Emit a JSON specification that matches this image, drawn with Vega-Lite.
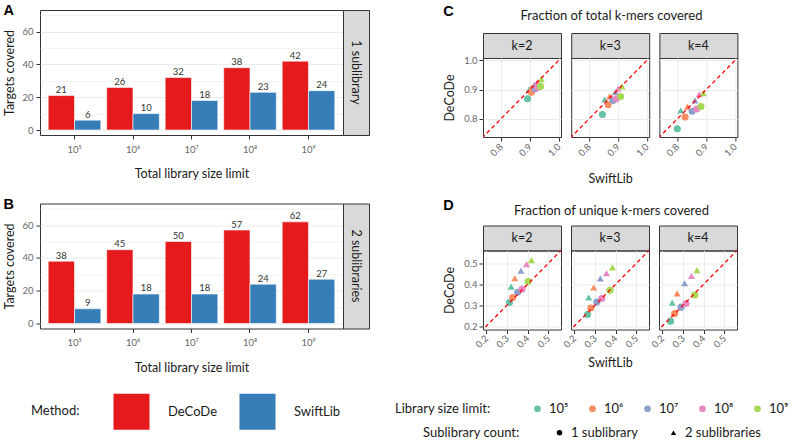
{
  "$schema": "https://vega.github.io/schema/vega-lite/v6.json",
  "background": "white",
  "padding": {"left": 3, "top": 3, "right": 3, "bottom": 3},
  "datasets": {
    "bars": [
      {"sub": "1 sublibrary", "lib": "10⁵", "method": "DeCoDe", "targets": 21},
      {"sub": "1 sublibrary", "lib": "10⁵", "method": "SwiftLib", "targets": 6},
      {"sub": "1 sublibrary", "lib": "10⁶", "method": "DeCoDe", "targets": 26},
      {"sub": "1 sublibrary", "lib": "10⁶", "method": "SwiftLib", "targets": 10},
      {"sub": "1 sublibrary", "lib": "10⁷", "method": "DeCoDe", "targets": 32},
      {"sub": "1 sublibrary", "lib": "10⁷", "method": "SwiftLib", "targets": 18},
      {"sub": "1 sublibrary", "lib": "10⁸", "method": "DeCoDe", "targets": 38},
      {"sub": "1 sublibrary", "lib": "10⁸", "method": "SwiftLib", "targets": 23},
      {"sub": "1 sublibrary", "lib": "10⁹", "method": "DeCoDe", "targets": 42},
      {"sub": "1 sublibrary", "lib": "10⁹", "method": "SwiftLib", "targets": 24},
      {"sub": "2 sublibraries", "lib": "10⁵", "method": "DeCoDe", "targets": 38},
      {"sub": "2 sublibraries", "lib": "10⁵", "method": "SwiftLib", "targets": 9},
      {"sub": "2 sublibraries", "lib": "10⁶", "method": "DeCoDe", "targets": 45},
      {"sub": "2 sublibraries", "lib": "10⁶", "method": "SwiftLib", "targets": 18},
      {"sub": "2 sublibraries", "lib": "10⁷", "method": "DeCoDe", "targets": 50},
      {"sub": "2 sublibraries", "lib": "10⁷", "method": "SwiftLib", "targets": 18},
      {"sub": "2 sublibraries", "lib": "10⁸", "method": "DeCoDe", "targets": 57},
      {"sub": "2 sublibraries", "lib": "10⁸", "method": "SwiftLib", "targets": 24},
      {"sub": "2 sublibraries", "lib": "10⁹", "method": "DeCoDe", "targets": 62},
      {"sub": "2 sublibraries", "lib": "10⁹", "method": "SwiftLib", "targets": 27}
    ],
    "total": [
      {"k": 2, "lib": "10⁵", "sub": "1 sublibrary", "swiftlib": 0.892, "decode": 0.869},
      {"k": 2, "lib": "10⁵", "sub": "2 sublibraries", "swiftlib": 0.898, "decode": 0.901},
      {"k": 2, "lib": "10⁶", "sub": "1 sublibrary", "swiftlib": 0.906, "decode": 0.891},
      {"k": 2, "lib": "10⁶", "sub": "2 sublibraries", "swiftlib": 0.906, "decode": 0.907},
      {"k": 2, "lib": "10⁷", "sub": "1 sublibrary", "swiftlib": 0.918, "decode": 0.903},
      {"k": 2, "lib": "10⁷", "sub": "2 sublibraries", "swiftlib": 0.916, "decode": 0.916},
      {"k": 2, "lib": "10⁸", "sub": "1 sublibrary", "swiftlib": 0.926, "decode": 0.906},
      {"k": 2, "lib": "10⁸", "sub": "2 sublibraries", "swiftlib": 0.926, "decode": 0.925},
      {"k": 2, "lib": "10⁹", "sub": "1 sublibrary", "swiftlib": 0.937, "decode": 0.911},
      {"k": 2, "lib": "10⁹", "sub": "2 sublibraries", "swiftlib": 0.940, "decode": 0.936},
      {"k": 3, "lib": "10⁵", "sub": "1 sublibrary", "swiftlib": 0.846, "decode": 0.815},
      {"k": 3, "lib": "10⁵", "sub": "2 sublibraries", "swiftlib": 0.854, "decode": 0.866},
      {"k": 3, "lib": "10⁶", "sub": "1 sublibrary", "swiftlib": 0.866, "decode": 0.848},
      {"k": 3, "lib": "10⁶", "sub": "2 sublibraries", "swiftlib": 0.871, "decode": 0.877},
      {"k": 3, "lib": "10⁷", "sub": "1 sublibrary", "swiftlib": 0.883, "decode": 0.863},
      {"k": 3, "lib": "10⁷", "sub": "2 sublibraries", "swiftlib": 0.891, "decode": 0.892},
      {"k": 3, "lib": "10⁸", "sub": "1 sublibrary", "swiftlib": 0.894, "decode": 0.869},
      {"k": 3, "lib": "10⁸", "sub": "2 sublibraries", "swiftlib": 0.900, "decode": 0.903},
      {"k": 3, "lib": "10⁹", "sub": "1 sublibrary", "swiftlib": 0.909, "decode": 0.876},
      {"k": 3, "lib": "10⁹", "sub": "2 sublibraries", "swiftlib": 0.914, "decode": 0.911},
      {"k": 4, "lib": "10⁵", "sub": "1 sublibrary", "swiftlib": 0.800, "decode": 0.766},
      {"k": 4, "lib": "10⁵", "sub": "2 sublibraries", "swiftlib": 0.812, "decode": 0.829},
      {"k": 4, "lib": "10⁶", "sub": "1 sublibrary", "swiftlib": 0.827, "decode": 0.806},
      {"k": 4, "lib": "10⁶", "sub": "2 sublibraries", "swiftlib": 0.835, "decode": 0.842},
      {"k": 4, "lib": "10⁷", "sub": "1 sublibrary", "swiftlib": 0.851, "decode": 0.826},
      {"k": 4, "lib": "10⁷", "sub": "2 sublibraries", "swiftlib": 0.861, "decode": 0.863},
      {"k": 4, "lib": "10⁸", "sub": "1 sublibrary", "swiftlib": 0.867, "decode": 0.834},
      {"k": 4, "lib": "10⁸", "sub": "2 sublibraries", "swiftlib": 0.876, "decode": 0.884},
      {"k": 4, "lib": "10⁹", "sub": "1 sublibrary", "swiftlib": 0.882, "decode": 0.842},
      {"k": 4, "lib": "10⁹", "sub": "2 sublibraries", "swiftlib": 0.890, "decode": 0.888}
    ],
    "unique": [
      {"k": 2, "lib": "10⁵", "sub": "1 sublibrary", "swiftlib": 0.312, "decode": 0.313},
      {"k": 2, "lib": "10⁵", "sub": "2 sublibraries", "swiftlib": 0.320, "decode": 0.389},
      {"k": 2, "lib": "10⁶", "sub": "1 sublibrary", "swiftlib": 0.328, "decode": 0.337},
      {"k": 2, "lib": "10⁶", "sub": "2 sublibraries", "swiftlib": 0.338, "decode": 0.429},
      {"k": 2, "lib": "10⁷", "sub": "1 sublibrary", "swiftlib": 0.352, "decode": 0.362},
      {"k": 2, "lib": "10⁷", "sub": "2 sublibraries", "swiftlib": 0.368, "decode": 0.465},
      {"k": 2, "lib": "10⁸", "sub": "1 sublibrary", "swiftlib": 0.373, "decode": 0.377},
      {"k": 2, "lib": "10⁸", "sub": "2 sublibraries", "swiftlib": 0.395, "decode": 0.497},
      {"k": 2, "lib": "10⁹", "sub": "1 sublibrary", "swiftlib": 0.403, "decode": 0.414},
      {"k": 2, "lib": "10⁹", "sub": "2 sublibraries", "swiftlib": 0.419, "decode": 0.516},
      {"k": 3, "lib": "10⁵", "sub": "1 sublibrary", "swiftlib": 0.264, "decode": 0.256},
      {"k": 3, "lib": "10⁵", "sub": "2 sublibraries", "swiftlib": 0.270, "decode": 0.337},
      {"k": 3, "lib": "10⁶", "sub": "1 sublibrary", "swiftlib": 0.280, "decode": 0.287},
      {"k": 3, "lib": "10⁶", "sub": "2 sublibraries", "swiftlib": 0.294, "decode": 0.385},
      {"k": 3, "lib": "10⁷", "sub": "1 sublibrary", "swiftlib": 0.309, "decode": 0.315},
      {"k": 3, "lib": "10⁷", "sub": "2 sublibraries", "swiftlib": 0.326, "decode": 0.428},
      {"k": 3, "lib": "10⁸", "sub": "1 sublibrary", "swiftlib": 0.333, "decode": 0.332},
      {"k": 3, "lib": "10⁸", "sub": "2 sublibraries", "swiftlib": 0.356, "decode": 0.453},
      {"k": 3, "lib": "10⁹", "sub": "1 sublibrary", "swiftlib": 0.373, "decode": 0.372},
      {"k": 3, "lib": "10⁹", "sub": "2 sublibraries", "swiftlib": 0.385, "decode": 0.481},
      {"k": 4, "lib": "10⁵", "sub": "1 sublibrary", "swiftlib": 0.240, "decode": 0.224},
      {"k": 4, "lib": "10⁵", "sub": "2 sublibraries", "swiftlib": 0.248, "decode": 0.312},
      {"k": 4, "lib": "10⁶", "sub": "1 sublibrary", "swiftlib": 0.260, "decode": 0.260},
      {"k": 4, "lib": "10⁶", "sub": "2 sublibraries", "swiftlib": 0.272, "decode": 0.357},
      {"k": 4, "lib": "10⁷", "sub": "1 sublibrary", "swiftlib": 0.291, "decode": 0.291},
      {"k": 4, "lib": "10⁷", "sub": "2 sublibraries", "swiftlib": 0.308, "decode": 0.405},
      {"k": 4, "lib": "10⁸", "sub": "1 sublibrary", "swiftlib": 0.315, "decode": 0.308},
      {"k": 4, "lib": "10⁸", "sub": "2 sublibraries", "swiftlib": 0.341, "decode": 0.440},
      {"k": 4, "lib": "10⁹", "sub": "1 sublibrary", "swiftlib": 0.357, "decode": 0.349},
      {"k": 4, "lib": "10⁹", "sub": "2 sublibraries", "swiftlib": 0.368, "decode": 0.468}
    ]
  },
  "hconcat": [
    {
      "vconcat": [
        {
          "title": {"text": "A", "anchor": "start", "offset": -9, "font": "Liberation Sans", "fontSize": 14.5, "fontWeight": "bold", "color": "#000000"},
          "hconcat": [
            {
              "width": 303, "height": 125,
              "data": {"name": "bars"},
              "transform": [{"filter": "datum.sub == '1 sublibrary'"}],
              "encoding": {
                "x": {"field": "lib", "type": "nominal", "sort": ["10⁵", "10⁶", "10⁷", "10⁸", "10⁹"], "scale": {"paddingInner": 0.1, "paddingOuter": 0.14}, "axis": {"title": "Total library size limit", "labelAngle": 0, "grid": false, "labelPadding": 5, "titlePadding": 14}},
                "xOffset": {"field": "method", "type": "nominal", "sort": ["DeCoDe", "SwiftLib"]},
                "y": {"field": "targets", "type": "quantitative", "scale": {"domain": [-3.05, 73.2], "nice": false}, "axis": {"title": "Targets covered", "values": [0, 10, 20, 30, 40, 50, 60, 70], "labelOverlap": false, "labelExpr": "datum.value % 20 == 0 ? datum.label : ''", "tickOpacity": {"condition": {"test": "datum.value % 20 == 0", "value": 1}, "value": 0}, "gridWidth": {"condition": {"test": "datum.value % 20 == 0", "value": 1}, "value": 0.6}, "labelPadding": 3, "titlePadding": 5}}
              },
              "layer": [
                {"mark": {"type": "bar", "stroke": "white", "strokeWidth": 0.6, "opacity": 1},
                 "encoding": {"color": {"field": "method", "type": "nominal", "scale": {"domain": ["DeCoDe", "SwiftLib"], "range": ["#E41A1C", "#377EB8"]}, "legend": {"title": "Method:", "orient": "bottom", "direction": "horizontal", "titleOrient": "left", "titleAnchor": "middle", "titleBaseline": "middle", "titlePadding": 33, "symbolType": "square", "symbolSize": 1300, "symbolStrokeWidth": 0, "labelOffset": 18, "columnPadding": 22, "offset": 19, "labelFontSize": 13, "titleFontSize": 13}}}},
                {"mark": {"type": "text", "baseline": "bottom", "dy": -0.5, "fontSize": 9.5, "color": "#333333"},
                 "encoding": {"text": {"field": "targets", "type": "quantitative"}}}
              ]
            },
            {
              "width": 26, "height": 125,
              "data": {"values": [{"label": "1 sublibrary"}]},
              "mark": {"type": "text", "angle": 90, "fontSize": 12.5, "color": "#1A1A1A"},
              "encoding": {"text": {"field": "label", "type": "nominal"}},
              "view": {"fill": "#D9D9D9", "stroke": "#333333"}
            }
          ],
          "spacing": 0,
          "bounds": "flush"
        },
        {
          "title": {"text": "B", "anchor": "start", "offset": -9, "font": "Liberation Sans", "fontSize": 14.5, "fontWeight": "bold", "color": "#000000"},
          "hconcat": [
            {
              "width": 303, "height": 125,
              "data": {"name": "bars"},
              "transform": [{"filter": "datum.sub == '2 sublibraries'"}],
              "encoding": {
                "x": {"field": "lib", "type": "nominal", "sort": ["10⁵", "10⁶", "10⁷", "10⁸", "10⁹"], "scale": {"paddingInner": 0.1, "paddingOuter": 0.14}, "axis": {"title": "Total library size limit", "labelAngle": 0, "grid": false, "labelPadding": 5, "titlePadding": 14}},
                "xOffset": {"field": "method", "type": "nominal", "sort": ["DeCoDe", "SwiftLib"]},
                "y": {"field": "targets", "type": "quantitative", "scale": {"domain": [-3.05, 73.2], "nice": false}, "axis": {"title": "Targets covered", "values": [0, 10, 20, 30, 40, 50, 60, 70], "labelOverlap": false, "labelExpr": "datum.value % 20 == 0 ? datum.label : ''", "tickOpacity": {"condition": {"test": "datum.value % 20 == 0", "value": 1}, "value": 0}, "gridWidth": {"condition": {"test": "datum.value % 20 == 0", "value": 1}, "value": 0.6}, "labelPadding": 3, "titlePadding": 5}}
              },
              "layer": [
                {"mark": {"type": "bar", "stroke": "white", "strokeWidth": 0.6, "opacity": 1},
                 "encoding": {"color": {"field": "method", "type": "nominal", "scale": {"domain": ["DeCoDe", "SwiftLib"], "range": ["#E41A1C", "#377EB8"]}, "legend": {"title": "Method:", "orient": "bottom", "direction": "horizontal", "titleOrient": "left", "titleAnchor": "middle", "titleBaseline": "middle", "titlePadding": 33, "symbolType": "square", "symbolSize": 1300, "symbolStrokeWidth": 0, "labelOffset": 18, "columnPadding": 22, "offset": 19, "labelFontSize": 13, "titleFontSize": 13}}}},
                {"mark": {"type": "text", "baseline": "bottom", "dy": -0.5, "fontSize": 9.5, "color": "#333333"},
                 "encoding": {"text": {"field": "targets", "type": "quantitative"}}}
              ]
            },
            {
              "width": 26, "height": 125,
              "data": {"values": [{"label": "2 sublibraries"}]},
              "mark": {"type": "text", "angle": 90, "fontSize": 12.5, "color": "#1A1A1A"},
              "encoding": {"text": {"field": "label", "type": "nominal"}},
              "view": {"fill": "#D9D9D9", "stroke": "#333333"}
            }
          ],
          "spacing": 0,
          "bounds": "flush"
        }
      ],
      "spacing": 15.5
    },
    {
      "vconcat": [
        {
          "title": {"text": "C", "anchor": "start", "offset": -9, "font": "Liberation Sans", "fontSize": 14.5, "fontWeight": "bold", "color": "#000000"},
          "vconcat": [
            {"width": 257, "height": 12, "data": {"values": [{"label": "Fraction of total k-mers covered"}]}, "mark": {"type": "text", "fontSize": 13, "color": "#1A1A1A"}, "encoding": {"text": {"field": "label", "type": "nominal"}}, "view": {"stroke": null}},
            {
              "hconcat": [
                {
                  "vconcat": [
                    {"width": 78, "height": 25, "data": {"values": [{"label": "k=2"}]}, "mark": {"type": "text", "fontSize": 12.5, "color": "#1A1A1A"}, "encoding": {"text": {"field": "label", "type": "nominal"}}, "view": {"fill": "#D9D9D9", "stroke": "#333333"}},
                    {
                      "width": 78, "height": 79,
                      "layer": [
                        {"data": {"name": "total"}, "transform": [{"filter": "datum.k == 2"}],
                         "mark": {"type": "point", "filled": true, "size": 50, "opacity": 1},
                         "encoding": {
                           "x": {"field": "swiftlib", "type": "quantitative", "scale": {"domain": [0.738, 1.008], "nice": false, "zero": false}, "axis": {"orient": "bottom", "values": [0.8, 0.9, 1.0], "format": ".1f", "labelAngle": -45, "labelAlign": "right", "labelBaseline": "middle", "labelPadding": 4, "title": null}},
                           "y": {"field": "decode", "type": "quantitative", "scale": {"domain": [0.738, 1.008], "nice": false, "zero": false}, "axis": {"orient": "left", "values": [0.8, 0.9, 1.0], "format": ".1f", "title": "DeCoDe", "titlePadding": 7, "labelPadding": 2}},
                           "color": {"field": "lib", "type": "nominal", "scale": {"domain": ["10⁵", "10⁶", "10⁷", "10⁸", "10⁹"], "range": ["#66C2A5", "#FC8D62", "#8DA0CB", "#E78AC3", "#A6D854"]}, "legend": {"title": "Library size limit:", "orient": "bottom", "direction": "horizontal", "titleOrient": "left", "titlePadding": 40, "symbolType": "circle", "symbolSize": 45, "symbolStrokeWidth": 0, "labelOffset": 5, "columnPadding": 17, "offset": 32}},
                           "shape": {"field": "sub", "type": "nominal", "scale": {"domain": ["1 sublibrary", "2 sublibraries"], "range": ["circle", "triangle-up"]}, "legend": {"title": "Sublibrary count:", "orient": "bottom", "direction": "horizontal", "titleOrient": "left", "titlePadding": 33, "symbolSize": 30, "symbolFillColor": "#000000", "symbolStrokeWidth": 0, "labelOffset": 5, "columnPadding": 28, "offset": 32}}
                         }},
                        {"data": {"values": [{}]},
                         "mark": {"type": "rule", "color": "#FF0000", "strokeDash": [4, 3], "strokeWidth": 1.3, "clip": true},
                         "encoding": {"x": {"datum": 0.7, "axis": {"orient": "bottom", "values": [0.75, 0.85, 0.95], "labels": false, "ticks": false, "title": null, "gridWidth": 0.6}}, "y": {"datum": 0.7, "axis": {"orient": "left", "values": [0.75, 0.85, 0.95], "labels": false, "ticks": false, "title": null, "gridWidth": 0.6}}, "x2": {"datum": 1.1}, "y2": {"datum": 1.1}}}
                      ],
                      "resolve": {"axis": {"x": "independent", "y": "independent"}}
                    }
                  ],
                  "spacing": 0, "bounds": "flush"
                },
                {
                  "vconcat": [
                    {"width": 78, "height": 25, "data": {"values": [{"label": "k=3"}]}, "mark": {"type": "text", "fontSize": 12.5, "color": "#1A1A1A"}, "encoding": {"text": {"field": "label", "type": "nominal"}}, "view": {"fill": "#D9D9D9", "stroke": "#333333"}},
                    {
                      "width": 78, "height": 79,
                      "layer": [
                        {"data": {"name": "total"}, "transform": [{"filter": "datum.k == 3"}],
                         "mark": {"type": "point", "filled": true, "size": 50, "opacity": 1},
                         "encoding": {
                           "x": {"field": "swiftlib", "type": "quantitative", "scale": {"domain": [0.738, 1.008], "nice": false, "zero": false}, "axis": {"orient": "bottom", "values": [0.8, 0.9, 1.0], "format": ".1f", "labelAngle": -45, "labelAlign": "right", "labelBaseline": "middle", "labelPadding": 4, "title": "SwiftLib", "titlePadding": 15}},
                           "y": {"field": "decode", "type": "quantitative", "scale": {"domain": [0.738, 1.008], "nice": false, "zero": false}, "axis": {"orient": "left", "values": [0.8, 0.9, 1.0], "labels": false, "ticks": false, "title": null}},
                           "color": {"field": "lib", "type": "nominal", "scale": {"domain": ["10⁵", "10⁶", "10⁷", "10⁸", "10⁹"], "range": ["#66C2A5", "#FC8D62", "#8DA0CB", "#E78AC3", "#A6D854"]}, "legend": {"title": "Library size limit:", "orient": "bottom", "direction": "horizontal", "titleOrient": "left", "titlePadding": 40, "symbolType": "circle", "symbolSize": 45, "symbolStrokeWidth": 0, "labelOffset": 5, "columnPadding": 17, "offset": 32}},
                           "shape": {"field": "sub", "type": "nominal", "scale": {"domain": ["1 sublibrary", "2 sublibraries"], "range": ["circle", "triangle-up"]}, "legend": {"title": "Sublibrary count:", "orient": "bottom", "direction": "horizontal", "titleOrient": "left", "titlePadding": 33, "symbolSize": 30, "symbolFillColor": "#000000", "symbolStrokeWidth": 0, "labelOffset": 5, "columnPadding": 28, "offset": 32}}
                         }},
                        {"data": {"values": [{}]},
                         "mark": {"type": "rule", "color": "#FF0000", "strokeDash": [4, 3], "strokeWidth": 1.3, "clip": true},
                         "encoding": {"x": {"datum": 0.7, "axis": {"orient": "bottom", "values": [0.75, 0.85, 0.95], "labels": false, "ticks": false, "title": null, "gridWidth": 0.6}}, "y": {"datum": 0.7, "axis": {"orient": "left", "values": [0.75, 0.85, 0.95], "labels": false, "ticks": false, "title": null, "gridWidth": 0.6}}, "x2": {"datum": 1.1}, "y2": {"datum": 1.1}}}
                      ],
                      "resolve": {"axis": {"x": "independent", "y": "independent"}}
                    }
                  ],
                  "spacing": 0, "bounds": "flush"
                },
                {
                  "vconcat": [
                    {"width": 78, "height": 25, "data": {"values": [{"label": "k=4"}]}, "mark": {"type": "text", "fontSize": 12.5, "color": "#1A1A1A"}, "encoding": {"text": {"field": "label", "type": "nominal"}}, "view": {"fill": "#D9D9D9", "stroke": "#333333"}},
                    {
                      "width": 78, "height": 79,
                      "layer": [
                        {"data": {"name": "total"}, "transform": [{"filter": "datum.k == 4"}],
                         "mark": {"type": "point", "filled": true, "size": 50, "opacity": 1},
                         "encoding": {
                           "x": {"field": "swiftlib", "type": "quantitative", "scale": {"domain": [0.738, 1.008], "nice": false, "zero": false}, "axis": {"orient": "bottom", "values": [0.8, 0.9, 1.0], "format": ".1f", "labelAngle": -45, "labelAlign": "right", "labelBaseline": "middle", "labelPadding": 4, "title": null}},
                           "y": {"field": "decode", "type": "quantitative", "scale": {"domain": [0.738, 1.008], "nice": false, "zero": false}, "axis": {"orient": "left", "values": [0.8, 0.9, 1.0], "labels": false, "ticks": false, "title": null}},
                           "color": {"field": "lib", "type": "nominal", "scale": {"domain": ["10⁵", "10⁶", "10⁷", "10⁸", "10⁹"], "range": ["#66C2A5", "#FC8D62", "#8DA0CB", "#E78AC3", "#A6D854"]}, "legend": {"title": "Library size limit:", "orient": "bottom", "direction": "horizontal", "titleOrient": "left", "titlePadding": 40, "symbolType": "circle", "symbolSize": 45, "symbolStrokeWidth": 0, "labelOffset": 5, "columnPadding": 17, "offset": 32}},
                           "shape": {"field": "sub", "type": "nominal", "scale": {"domain": ["1 sublibrary", "2 sublibraries"], "range": ["circle", "triangle-up"]}, "legend": {"title": "Sublibrary count:", "orient": "bottom", "direction": "horizontal", "titleOrient": "left", "titlePadding": 33, "symbolSize": 30, "symbolFillColor": "#000000", "symbolStrokeWidth": 0, "labelOffset": 5, "columnPadding": 28, "offset": 32}}
                         }},
                        {"data": {"values": [{}]},
                         "mark": {"type": "rule", "color": "#FF0000", "strokeDash": [4, 3], "strokeWidth": 1.3, "clip": true},
                         "encoding": {"x": {"datum": 0.7, "axis": {"orient": "bottom", "values": [0.75, 0.85, 0.95], "labels": false, "ticks": false, "title": null, "gridWidth": 0.6}}, "y": {"datum": 0.7, "axis": {"orient": "left", "values": [0.75, 0.85, 0.95], "labels": false, "ticks": false, "title": null, "gridWidth": 0.6}}, "x2": {"datum": 1.1}, "y2": {"datum": 1.1}}}
                      ],
                      "resolve": {"axis": {"x": "independent", "y": "independent"}}
                    }
                  ],
                  "spacing": 0, "bounds": "flush"
                }
              ],
              "spacing": 7.2
            }
          ],
          "spacing": 9
        },
        {
          "title": {"text": "D", "anchor": "start", "offset": -9, "font": "Liberation Sans", "fontSize": 14.5, "fontWeight": "bold", "color": "#000000"},
          "vconcat": [
            {"width": 257, "height": 12, "data": {"values": [{"label": "Fraction of unique k-mers covered"}]}, "mark": {"type": "text", "fontSize": 13, "color": "#1A1A1A"}, "encoding": {"text": {"field": "label", "type": "nominal"}}, "view": {"stroke": null}},
            {
              "hconcat": [
                {
                  "vconcat": [
                    {"width": 78, "height": 25, "data": {"values": [{"label": "k=2"}]}, "mark": {"type": "text", "fontSize": 12.5, "color": "#1A1A1A"}, "encoding": {"text": {"field": "label", "type": "nominal"}}, "view": {"fill": "#D9D9D9", "stroke": "#333333"}},
                    {
                      "width": 78, "height": 79,
                      "layer": [
                        {"data": {"name": "unique"}, "transform": [{"filter": "datum.k == 2"}],
                         "mark": {"type": "point", "filled": true, "size": 50, "opacity": 1},
                         "encoding": {
                           "x": {"field": "swiftlib", "type": "quantitative", "scale": {"domain": [0.184, 0.562], "nice": false, "zero": false}, "axis": {"orient": "bottom", "values": [0.2, 0.3, 0.4, 0.5], "format": ".1f", "labelAngle": -45, "labelAlign": "right", "labelBaseline": "middle", "labelPadding": 3, "title": null}},
                           "y": {"field": "decode", "type": "quantitative", "scale": {"domain": [0.184, 0.562], "nice": false, "zero": false}, "axis": {"orient": "left", "values": [0.2, 0.3, 0.4, 0.5], "format": ".1f", "title": "DeCoDe", "titlePadding": 7, "labelPadding": 2}},
                           "color": {"field": "lib", "type": "nominal", "scale": {"domain": ["10⁵", "10⁶", "10⁷", "10⁸", "10⁹"], "range": ["#66C2A5", "#FC8D62", "#8DA0CB", "#E78AC3", "#A6D854"]}, "legend": {"title": "Library size limit:", "orient": "bottom", "direction": "horizontal", "titleOrient": "left", "titlePadding": 40, "symbolType": "circle", "symbolSize": 45, "symbolStrokeWidth": 0, "labelOffset": 5, "columnPadding": 17, "offset": 32}},
                           "shape": {"field": "sub", "type": "nominal", "scale": {"domain": ["1 sublibrary", "2 sublibraries"], "range": ["circle", "triangle-up"]}, "legend": {"title": "Sublibrary count:", "orient": "bottom", "direction": "horizontal", "titleOrient": "left", "titlePadding": 33, "symbolSize": 30, "symbolFillColor": "#000000", "symbolStrokeWidth": 0, "labelOffset": 5, "columnPadding": 28, "offset": 32}}
                         }},
                        {"data": {"values": [{}]},
                         "mark": {"type": "rule", "color": "#FF0000", "strokeDash": [4, 3], "strokeWidth": 1.3, "clip": true},
                         "encoding": {"x": {"datum": 0.1, "axis": {"orient": "bottom", "values": [0.25, 0.35, 0.45, 0.55], "labels": false, "ticks": false, "title": null, "gridWidth": 0.6}}, "y": {"datum": 0.1, "axis": {"orient": "left", "values": [0.25, 0.35, 0.45, 0.55], "labels": false, "ticks": false, "title": null, "gridWidth": 0.6}}, "x2": {"datum": 0.7}, "y2": {"datum": 0.7}}}
                      ],
                      "resolve": {"axis": {"x": "independent", "y": "independent"}}
                    }
                  ],
                  "spacing": 0, "bounds": "flush"
                },
                {
                  "vconcat": [
                    {"width": 78, "height": 25, "data": {"values": [{"label": "k=3"}]}, "mark": {"type": "text", "fontSize": 12.5, "color": "#1A1A1A"}, "encoding": {"text": {"field": "label", "type": "nominal"}}, "view": {"fill": "#D9D9D9", "stroke": "#333333"}},
                    {
                      "width": 78, "height": 79,
                      "layer": [
                        {"data": {"name": "unique"}, "transform": [{"filter": "datum.k == 3"}],
                         "mark": {"type": "point", "filled": true, "size": 50, "opacity": 1},
                         "encoding": {
                           "x": {"field": "swiftlib", "type": "quantitative", "scale": {"domain": [0.184, 0.562], "nice": false, "zero": false}, "axis": {"orient": "bottom", "values": [0.2, 0.3, 0.4, 0.5], "format": ".1f", "labelAngle": -45, "labelAlign": "right", "labelBaseline": "middle", "labelPadding": 3, "title": "SwiftLib", "titlePadding": 7}},
                           "y": {"field": "decode", "type": "quantitative", "scale": {"domain": [0.184, 0.562], "nice": false, "zero": false}, "axis": {"orient": "left", "values": [0.2, 0.3, 0.4, 0.5], "labels": false, "ticks": false, "title": null}},
                           "color": {"field": "lib", "type": "nominal", "scale": {"domain": ["10⁵", "10⁶", "10⁷", "10⁸", "10⁹"], "range": ["#66C2A5", "#FC8D62", "#8DA0CB", "#E78AC3", "#A6D854"]}, "legend": {"title": "Library size limit:", "orient": "bottom", "direction": "horizontal", "titleOrient": "left", "titlePadding": 40, "symbolType": "circle", "symbolSize": 45, "symbolStrokeWidth": 0, "labelOffset": 5, "columnPadding": 17, "offset": 32}},
                           "shape": {"field": "sub", "type": "nominal", "scale": {"domain": ["1 sublibrary", "2 sublibraries"], "range": ["circle", "triangle-up"]}, "legend": {"title": "Sublibrary count:", "orient": "bottom", "direction": "horizontal", "titleOrient": "left", "titlePadding": 33, "symbolSize": 30, "symbolFillColor": "#000000", "symbolStrokeWidth": 0, "labelOffset": 5, "columnPadding": 28, "offset": 32}}
                         }},
                        {"data": {"values": [{}]},
                         "mark": {"type": "rule", "color": "#FF0000", "strokeDash": [4, 3], "strokeWidth": 1.3, "clip": true},
                         "encoding": {"x": {"datum": 0.1, "axis": {"orient": "bottom", "values": [0.25, 0.35, 0.45, 0.55], "labels": false, "ticks": false, "title": null, "gridWidth": 0.6}}, "y": {"datum": 0.1, "axis": {"orient": "left", "values": [0.25, 0.35, 0.45, 0.55], "labels": false, "ticks": false, "title": null, "gridWidth": 0.6}}, "x2": {"datum": 0.7}, "y2": {"datum": 0.7}}}
                      ],
                      "resolve": {"axis": {"x": "independent", "y": "independent"}}
                    }
                  ],
                  "spacing": 0, "bounds": "flush"
                },
                {
                  "vconcat": [
                    {"width": 78, "height": 25, "data": {"values": [{"label": "k=4"}]}, "mark": {"type": "text", "fontSize": 12.5, "color": "#1A1A1A"}, "encoding": {"text": {"field": "label", "type": "nominal"}}, "view": {"fill": "#D9D9D9", "stroke": "#333333"}},
                    {
                      "width": 78, "height": 79,
                      "layer": [
                        {"data": {"name": "unique"}, "transform": [{"filter": "datum.k == 4"}],
                         "mark": {"type": "point", "filled": true, "size": 50, "opacity": 1},
                         "encoding": {
                           "x": {"field": "swiftlib", "type": "quantitative", "scale": {"domain": [0.184, 0.562], "nice": false, "zero": false}, "axis": {"orient": "bottom", "values": [0.2, 0.3, 0.4, 0.5], "format": ".1f", "labelAngle": -45, "labelAlign": "right", "labelBaseline": "middle", "labelPadding": 3, "title": null}},
                           "y": {"field": "decode", "type": "quantitative", "scale": {"domain": [0.184, 0.562], "nice": false, "zero": false}, "axis": {"orient": "left", "values": [0.2, 0.3, 0.4, 0.5], "labels": false, "ticks": false, "title": null}},
                           "color": {"field": "lib", "type": "nominal", "scale": {"domain": ["10⁵", "10⁶", "10⁷", "10⁸", "10⁹"], "range": ["#66C2A5", "#FC8D62", "#8DA0CB", "#E78AC3", "#A6D854"]}, "legend": {"title": "Library size limit:", "orient": "bottom", "direction": "horizontal", "titleOrient": "left", "titlePadding": 40, "symbolType": "circle", "symbolSize": 45, "symbolStrokeWidth": 0, "labelOffset": 5, "columnPadding": 17, "offset": 32}},
                           "shape": {"field": "sub", "type": "nominal", "scale": {"domain": ["1 sublibrary", "2 sublibraries"], "range": ["circle", "triangle-up"]}, "legend": {"title": "Sublibrary count:", "orient": "bottom", "direction": "horizontal", "titleOrient": "left", "titlePadding": 33, "symbolSize": 30, "symbolFillColor": "#000000", "symbolStrokeWidth": 0, "labelOffset": 5, "columnPadding": 28, "offset": 32}}
                         }},
                        {"data": {"values": [{}]},
                         "mark": {"type": "rule", "color": "#FF0000", "strokeDash": [4, 3], "strokeWidth": 1.3, "clip": true},
                         "encoding": {"x": {"datum": 0.1, "axis": {"orient": "bottom", "values": [0.25, 0.35, 0.45, 0.55], "labels": false, "ticks": false, "title": null, "gridWidth": 0.6}}, "y": {"datum": 0.1, "axis": {"orient": "left", "values": [0.25, 0.35, 0.45, 0.55], "labels": false, "ticks": false, "title": null, "gridWidth": 0.6}}, "x2": {"datum": 0.7}, "y2": {"datum": 0.7}}}
                      ],
                      "resolve": {"axis": {"x": "independent", "y": "independent"}}
                    }
                  ],
                  "spacing": 0, "bounds": "flush"
                }
              ],
              "spacing": -2
            }
          ],
          "spacing": 7
        }
      ],
      "spacing": 11.5
    }
  ],
  "spacing": 25,
  "resolve": {"scale": {"color": "independent", "shape": "independent"}, "legend": {"color": "independent", "shape": "independent"}},
  "config": {
    "font": "Lato",
    "view": {"stroke": "#333333", "strokeWidth": 1},
    "axis": {"domain": false, "grid": true, "gridColor": "#EBEBEB", "tickColor": "#333333", "tickSize": 4, "labelColor": "#666666", "labelFontSize": 9.5, "labelFont": "Lato", "titleFont": "Lato", "titleFontSize": 12.5, "titleFontWeight": "normal", "titleColor": "#1A1A1A"},
    "legend": {"labelFont": "Lato", "titleFont": "Lato", "labelFontSize": 13, "titleFontSize": 13, "titleFontWeight": "normal", "titleColor": "#1A1A1A", "labelColor": "#1A1A1A", "layout": {"bottom": {"anchor": "middle", "direction": "vertical", "center": true, "margin": 10}}},
    "text": {"font": "Lato"}
  }
}
